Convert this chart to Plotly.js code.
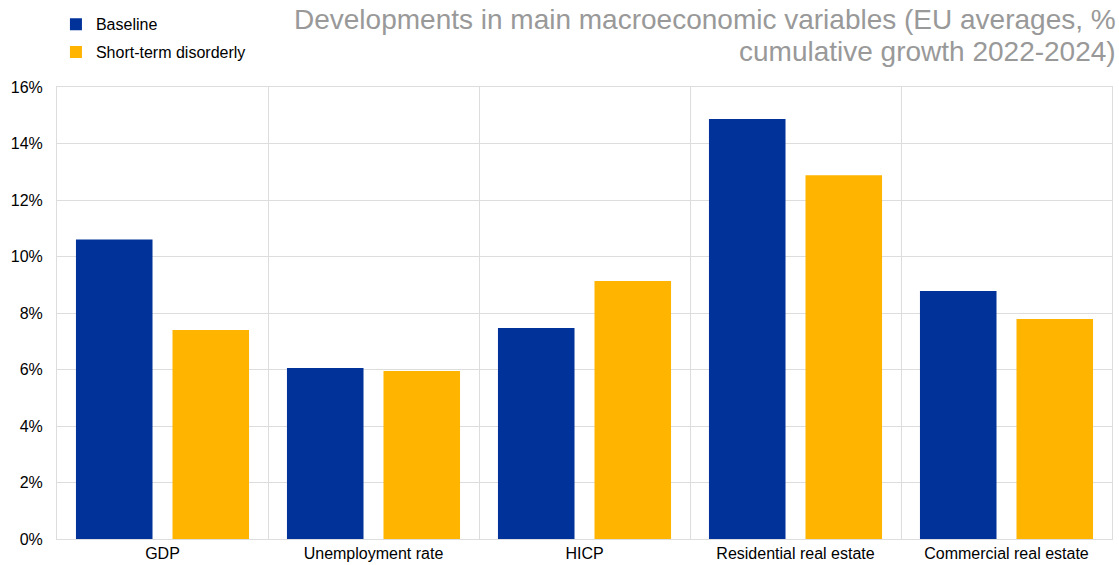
<!DOCTYPE html>
<html>
<head>
<meta charset="utf-8">
<script src="https://cdn.plot.ly/plotly-3.0.1.min.js"></script>
<style>html,body{margin:0;padding:0;background:#fff;}#chart{width:1119px;height:565px;}</style>
</head>
<body>
<div id="chart"></div>
<script>
const categories = ["GDP", "Unemployment rate", "HICP", "Residential real estate", "Commercial real estate"];
const baseline = [10.6, 6.05, 7.47, 14.87, 8.78];
const shortTermDisorderly = [7.4, 5.95, 9.13, 12.88, 7.79];
const yTickVals = [0, 2, 4, 6, 8, 10, 12, 14, 16];
const yTickText = ["0%", "2%", "4%", "6%", "8%", "10%", "12%", "14%", "16%"];
const titleLines = ["Developments in main macroeconomic variables (EU averages, %", "cumulative growth 2022-2024)"];

const font = "Arial, 'Liberation Sans', sans-serif";
const data = [
  {type: "bar", name: "Baseline", x: categories, y: baseline, marker: {color: "#003299"}, legendgroup: "a", hoverinfo: "x+y"},
  {type: "bar", name: "Short-term disorderly", x: categories, y: shortTermDisorderly, marker: {color: "#FFB400"}, legendgroup: "b", hoverinfo: "x+y"}
];
const layout = {
  width: 1119, height: 565,
  margin: {l: 57, r: 7, t: 87, b: 26, autoexpand: false},
  paper_bgcolor: "#fff", plot_bgcolor: "#fff",
  font: {family: font, size: 16, color: "#000"},
  barmode: "group", bargap: 0.085, bargroupgap: 0.207,
  annotations: [
    {text: titleLines[0], xref: "paper", yref: "paper", x: 1.006, y: 1.1504, xanchor: "right", yanchor: "middle",
     showarrow: false, font: {family: font, size: 28, color: "#999999"}},
    {text: titleLines[1], xref: "paper", yref: "paper", x: 1.006, y: 1.0796, xanchor: "right", yanchor: "middle",
     showarrow: false, font: {family: font, size: 28, color: "#999999"}}
  ],
  showlegend: true,
  legend: {
    x: -0.001, y: 1.1764, xanchor: "left", yanchor: "top",
    font: {family: font, size: 16, color: "#000"},
    bgcolor: "rgba(0,0,0,0)", traceorder: "grouped", tracegroupgap: 4
  },
  xaxis: {
    type: "category", tickson: "boundaries", showgrid: true, gridcolor: "#dddddd", gridwidth: 1,
    showline: true, linecolor: "#dddddd", linewidth: 1, mirror: true,
    ticks: "", tickfont: {family: font, size: 16, color: "#000"}, fixedrange: true
  },
  yaxis: {
    range: [0, 16], tickvals: yTickVals, ticktext: yTickText,
    showgrid: true, gridcolor: "#dddddd", gridwidth: 1, zeroline: false,
    showline: true, linecolor: "#dddddd", linewidth: 1, mirror: true,
    ticks: "", ticklabelstandoff: 10, tickfont: {family: font, size: 16, color: "#000"}, fixedrange: true
  }
};
Plotly.newPlot("chart", data, layout, {displayModeBar: false});
</script>
</body>
</html>
